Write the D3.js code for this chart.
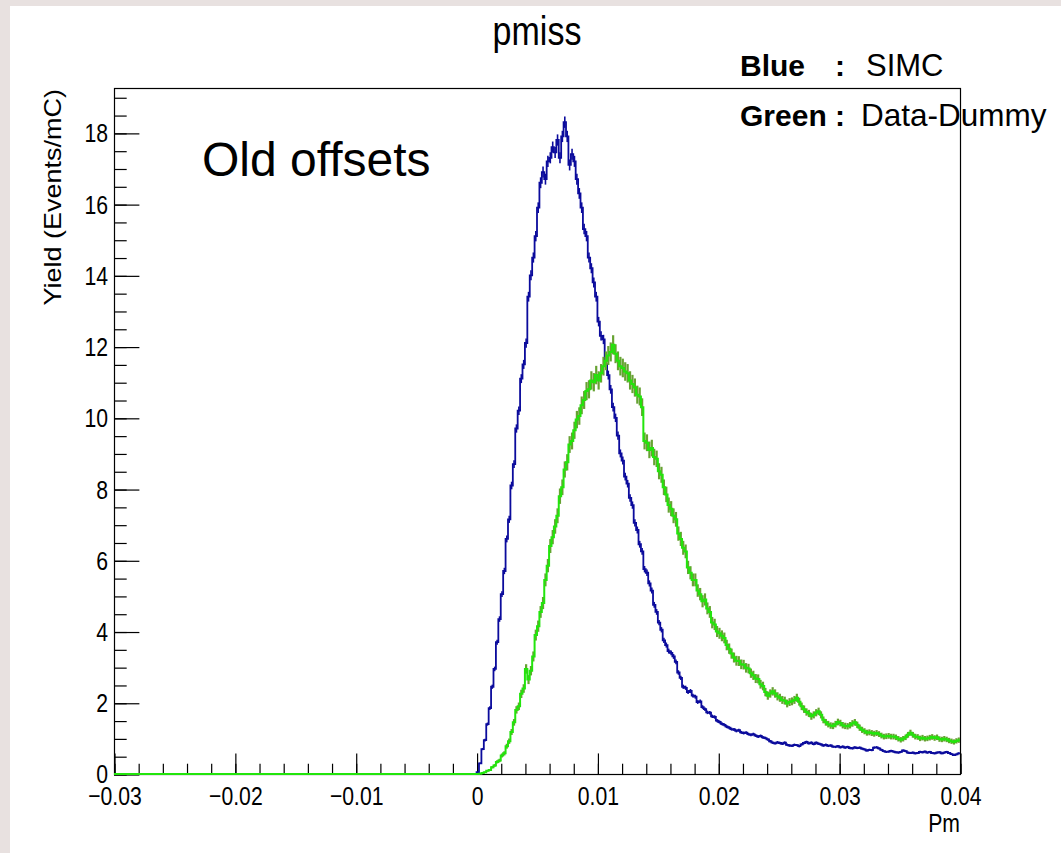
<!DOCTYPE html>
<html>
<head>
<meta charset="utf-8">
<script src="https://cdn.jsdelivr.net/npm/d3@7"></script>
<style>
  html, body { margin: 0; padding: 0; background: #e8e1e0; }
  svg { display: block; }
  text { font-family: "Liberation Sans", Arial, Helvetica, sans-serif; fill: #000; }
</style>
</head>
<body>
<svg id="chart" width="1061" height="853"></svg>
<script>
// ---- Histogram binning (Pm) ----
const xMin = -0.03, xMax = 0.04;
const yMax = 19.26;
const binStart = 0;
const binWidth = 0.0002;

// SIMC yield per bin (Events/mC), bins from Pm = 0 to 0.04
const simcYield = [
  0.05, 0.3, 0.7, 0.95, 1.4, 1.85, 2.45, 2.95, 3.7, 4.35, 5.05, 5.7, 6.6, 7.15, 8.1, 8.7, 9.7, 10.2, 11.1, 11.5,
  12.1, 13.4, 14.0, 14.5, 15.1, 15.9, 16.6, 16.9, 16.7, 17.2, 17.3, 17.6, 17.45, 17.8, 17.3, 17.9, 18.3, 17.9, 17.1, 17.4,
  17.2, 16.7, 16.3, 15.9, 15.3, 15.1, 14.5, 14.2, 13.8, 13.4, 12.7, 12.3, 12.2, 11.5, 11.2, 10.8, 10.3, 10.0, 9.5, 9.0,
  8.8, 8.35, 8.15, 7.75, 7.55, 7.05, 6.85, 6.45, 6.25, 5.75, 5.65, 5.35, 5.15, 4.75, 4.55, 4.25, 4.05, 3.75, 3.62, 3.45,
  3.4, 3.3, 3.15, 2.85, 2.7, 2.45, 2.42, 2.3, 2.33, 2.2, 2.17, 2.02, 2.04, 1.88, 1.82, 1.73, 1.72, 1.62, 1.6, 1.5,
  1.46, 1.41, 1.38, 1.33, 1.30, 1.26, 1.25, 1.21, 1.23, 1.17, 1.15, 1.16, 1.12, 1.10, 1.12, 1.08, 1.05, 1.07, 1.03, 1.01,
  0.97, 0.92, 0.88, 0.86, 0.89, 0.87, 0.85, 0.88, 0.82, 0.8, 0.79, 0.82, 0.81, 0.78, 0.83, 0.87, 0.9, 0.86, 0.88, 0.84,
  0.88, 0.85, 0.83, 0.8, 0.82, 0.79, 0.8, 0.77, 0.76, 0.78, 0.75, 0.77, 0.74, 0.76, 0.73, 0.72, 0.75, 0.73, 0.74, 0.71,
  0.69, 0.66, 0.68, 0.67, 0.74, 0.75, 0.72, 0.68, 0.64, 0.62, 0.63, 0.65, 0.63, 0.61, 0.6, 0.62, 0.66, 0.64, 0.6, 0.59,
  0.6, 0.58, 0.59, 0.62, 0.61, 0.63, 0.6, 0.62, 0.59, 0.58, 0.6, 0.61, 0.58, 0.6, 0.62, 0.59, 0.56, 0.53, 0.55, 0.58
];

// Data minus dummy yield per bin (Events/mC)
const dataDummyYield = [
  0, 0.01, 0.03, 0.05, 0.09, 0.11, 0.19, 0.24, 0.34, 0.38, 0.52, 0.58, 0.78, 0.92, 1.18, 1.45, 1.8, 1.9, 2.25, 2.4,
  2.95, 2.65, 2.9, 3.3, 3.9, 4.15, 4.55, 4.8, 5.45, 5.85, 6.4, 6.65, 6.95, 7.25, 7.8, 8.05, 8.55, 8.75, 9.25, 9.35,
  9.65, 9.95, 10.05, 10.35, 10.5, 10.75, 10.8, 11.05, 11.0, 11.2, 11.05, 11.25, 11.45, 11.6, 11.75, 11.85, 12.05, 11.8, 11.6, 11.45,
  11.4, 11.3, 11.25, 11.05, 10.95, 10.85, 10.65, 10.6, 10.3, 9.35, 9.3, 9.1, 9.15, 8.9, 8.85, 8.5, 8.4, 8.05, 7.85, 7.55,
  7.45, 7.25, 7.15, 6.75, 6.6, 6.35, 6.25, 5.8, 5.65, 5.45, 5.45, 5.15, 5.05, 4.85, 4.9, 4.65, 4.55, 4.25, 4.2, 4.0,
  3.95, 3.88, 3.82, 3.62, 3.52, 3.38, 3.27, 3.18, 3.17, 3.08, 3.07, 2.98, 2.96, 2.83, 2.77, 2.68, 2.67, 2.52, 2.47, 2.3,
  2.2, 2.26, 2.32, 2.26, 2.18, 2.14, 2.08, 2.06, 1.98, 2.02, 2.04, 2.08, 2.14, 2.03, 1.9, 1.82, 1.74, 1.7, 1.62, 1.66,
  1.72, 1.76, 1.66, 1.52, 1.45, 1.4, 1.36, 1.35, 1.4, 1.46, 1.43, 1.37, 1.35, 1.34, 1.37, 1.42, 1.45, 1.38, 1.3, 1.24,
  1.2, 1.16, 1.17, 1.15, 1.13, 1.15, 1.12, 1.08, 1.05, 1.06, 1.07, 1.05, 1.05, 1.03, 0.99, 0.96, 0.99, 1.03, 1.1, 1.16,
  1.1, 1.05, 1.04, 1.0, 1.02, 0.99, 1.0, 1.02, 1.04, 1.01, 1.03, 0.98, 0.97, 0.99, 0.97, 0.94, 0.92, 0.9, 0.93, 0.95
];

// Yield per event of each sample, used for the Poisson error bars
const simcEventWeight = 0.0014;
const dataEventWeight = 0.006;

// Axis ticks
const xMajorTicks = [-0.03, -0.02, -0.01, 0, 0.01, 0.02, 0.03, 0.04];
const xTickLabels = ["\u22120.03", "\u22120.02", "\u22120.01", "0", "0.01", "0.02", "0.03", "0.04"];
const xMinorStep = 0.002;
const yMajorTicks = [0, 2, 4, 6, 8, 10, 12, 14, 16, 18];
const yTickLabels = ["0", "2", "4", "6", "8", "10", "12", "14", "16", "18"];
const yMinorStep = 0.5;

// ---- Layout ----
const W = 1061, H = 853;
const frame = { left: 114, right: 960, top: 88, bottom: 774 };
const squeeze = 0.8; // horizontal condensing of the canvas lettering

const svg = d3.select("#chart");
svg.append("rect").attr("width", W).attr("height", H).attr("fill", "#e8e1e0");
svg.append("rect").attr("x", 10).attr("y", 6).attr("width", W - 10).attr("height", H - 6).attr("fill", "#ffffff");

const x = d3.scaleLinear().domain([xMin, xMax]).range([frame.left, frame.right]);
const y = d3.scaleLinear().domain([0, yMax]).range([frame.bottom, frame.top]);

// Frame
svg.append("rect")
  .attr("x", frame.left + 0.5).attr("y", frame.top + 0.5)
  .attr("width", frame.right - frame.left).attr("height", frame.bottom - frame.top)
  .attr("fill", "none").attr("stroke", "#000").attr("stroke-width", 1.2);

// Minor ticks
const xMinor = d3.range(Math.round((xMax - xMin) / xMinorStep) + 1).map(i => +(xMin + i * xMinorStep).toFixed(4));
const yMinor = d3.range(Math.floor(yMax / yMinorStep) + 1).map(i => i * yMinorStep);
const majX = 0.03 * (frame.bottom - frame.top);
const majY = 0.03 * (frame.right - frame.left);

const xMinorAxis = d3.axisBottom(x).tickValues(xMinor).tickSize(-majX / 2).tickSizeOuter(0).tickFormat("");
const xMajorAxis = d3.axisBottom(x).tickValues(xMajorTicks).tickSize(-majX).tickSizeOuter(0)
  .tickPadding(12).tickFormat((d, i) => xTickLabels[i]);
const yMinorAxis = d3.axisLeft(y).tickValues(yMinor).tickSize(-majY / 2).tickSizeOuter(0).tickFormat("");
const yMajorAxis = d3.axisLeft(y).tickValues(yMajorTicks).tickSize(-majY).tickSizeOuter(0)
  .tickPadding(7.5).tickFormat((d, i) => yTickLabels[i]);

function styleAxis(g) {
  g.select(".domain").remove();
  g.selectAll(".tick line").attr("stroke", "#000").attr("stroke-width", 1.2);
  g.selectAll(".tick text")
    .attr("font-family", "\"Liberation Sans\", Arial, sans-serif")
    .attr("font-size", 26.5).attr("fill", "#000")
    .attr("transform", `scale(${squeeze},1)`);
}
svg.append("g").attr("transform", `translate(0.5,${frame.bottom})`).call(xMinorAxis).call(styleAxis);
svg.append("g").attr("transform", `translate(0.5,${frame.bottom})`).call(xMajorAxis).call(styleAxis);
svg.append("g").attr("transform", `translate(${frame.left},0.5)`).call(yMinorAxis).call(styleAxis);
svg.append("g").attr("transform", `translate(${frame.left},0.5)`).call(yMajorAxis).call(styleAxis);

// ---- Histograms ----
svg.append("clipPath").attr("id", "plotClip").append("rect")
  .attr("x", frame.left).attr("y", frame.top - 2)
  .attr("width", frame.right - frame.left + 1).attr("height", frame.bottom - frame.top + 4);

const plot = svg.append("g").attr("clip-path", "url(#plotClip)");

function stepPoints(vals) {
  const pts = [[xMin, 0], [binStart, 0]];
  vals.forEach((v, i) => pts.push([binStart + i * binWidth, v]));
  pts.push([binStart + vals.length * binWidth, vals[vals.length - 1]]);
  return pts;
}
const stepLine = d3.line().x(d => x(d[0])).y(d => y(d[1])).curve(d3.curveStepAfter);

function drawHist(vals, weight, lineColor, errColor, lineWidth, errWidth) {
  const g = plot.append("g");
  g.append("g").selectAll("line").data(vals).join("line")
    .attr("x1", (d, i) => x(binStart + (i + 0.5) * binWidth))
    .attr("x2", (d, i) => x(binStart + (i + 0.5) * binWidth))
    .attr("y1", d => y(d - Math.sqrt(d * weight)))
    .attr("y2", d => y(d + Math.sqrt(d * weight)))
    .attr("stroke", errColor).attr("stroke-width", errWidth);
  g.append("path").datum(stepPoints(vals))
    .attr("d", stepLine).attr("fill", "none")
    .attr("stroke", lineColor).attr("stroke-width", lineWidth)
    .attr("stroke-linejoin", "miter");
}

drawHist(simcYield, simcEventWeight, "#0b0b9c", "#0b0b9c", 1.8, 1.6);
drawHist(dataDummyYield, dataEventWeight, "#22e50c", "#66a232", 2.0, 2.2);

// ---- Text ----
svg.append("text")
  .attr("transform", "translate(537,45) scale(0.85,1)")
  .attr("text-anchor", "middle").attr("font-size", 40)
  .text("pmiss");

svg.append("text")
  .attr("transform", `translate(${frame.right},832) scale(${squeeze},1)`)
  .attr("text-anchor", "end").attr("font-size", 26.5)
  .text("Pm");

svg.append("text")
  .attr("transform", `translate(61,${frame.top + 1}) rotate(-90) scale(1,0.9)`)
  .attr("text-anchor", "end").attr("font-size", 27)
  .text("Yield (Events/mC)");

svg.append("text")
  .attr("x", 202).attr("y", 176).attr("font-size", 48)
  .text("Old offsets");

const legend = svg.append("g");
legend.append("text").attr("x", 740).attr("y", 76).attr("font-size", 30).attr("font-weight", "bold").text("Blue");
legend.append("text").attr("x", 835).attr("y", 76).attr("font-size", 30).attr("font-weight", "bold").text(":");
legend.append("text").attr("x", 866).attr("y", 76).attr("font-size", 31).text("SIMC");
legend.append("text").attr("x", 740).attr("y", 126).attr("font-size", 30).attr("font-weight", "bold").text("Green :");
legend.append("text").attr("x", 861).attr("y", 126).attr("font-size", 31.5).text("Data-Dummy");
</script>
</body>
</html>
